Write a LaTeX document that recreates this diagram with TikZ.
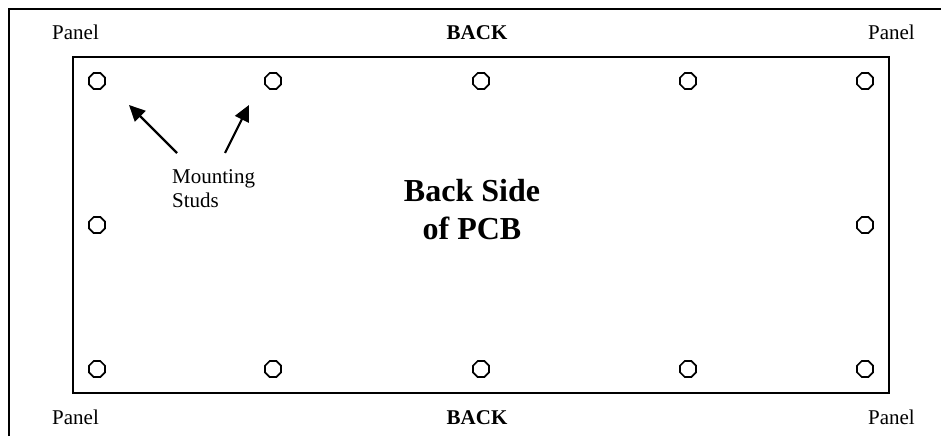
\documentclass[tikz,border=0pt]{standalone}
\usepackage{fontspec}
\setmainfont{Liberation Serif}
\usetikzlibrary{arrows.meta,shapes.geometric}
\tikzset{
  x=1pt,y=-1pt,
  frame/.style={draw=black,line width=1.7pt},
  board/.style={draw=black,line width=1.6pt},
  stud/.style={draw=black,line width=1.7pt,regular polygon,regular polygon sides=8,minimum size=17.3pt,inner sep=0pt},
  lbl/.style={inner sep=0pt,font=\fontsize{21}{21}\selectfont},
  backlbl/.style={inner sep=0pt,font=\fontsize{21}{21}\selectfont\bfseries},
  big/.style={inner sep=0pt,align=center,font=\fontsize{32}{38}\selectfont\bfseries},
  note/.style={inner sep=0pt,align=left,font=\fontsize{21}{23.5}\selectfont},
  pointer/.style={draw=black,line width=2.2pt,-{Triangle[length=16pt,width=15pt]}}
}
\begin{document}
\begin{tikzpicture}
\useasboundingbox (0,0) rectangle (941,436);
\coordinate (fb) at (9,436);
\coordinate (ft) at (9,9);
\coordinate (fr) at (941,9);
\draw[frame] (fb) -- (ft) -- (fr);
\node[board,minimum width=816pt,minimum height=336pt,inner sep=0pt,outer sep=0pt,anchor=north west] (pcb) at (73,57) {};
\foreach \n/\x/\y in {a/97/81,b/273/81,c/481/81,d/688/81,e/865/81,f/97/225,g/865/225,h/97/369,i/273/369,j/481/369,k/688/369,l/865/369}
  \node[stud] (s\n) at (\x,\y) {};
\node[lbl,anchor=base west] (p1) at (52,40) {Panel};
\node[lbl,anchor=base east] (p2) at (915,40) {Panel};
\node[lbl,anchor=base west] (p3) at (52,424) {Panel};
\node[lbl,anchor=base east] (p4) at (915,424) {Panel};
\node[backlbl,anchor=base] (b1) at (477,40) {BACK};
\node[backlbl,anchor=base] (b2) at (477,424) {BACK};
\node[big,anchor=base] (title) at (472,239) {Back Side\\of PCB};
\node[note,anchor=base west] (note) at (172,207) {Mounting\\Studs};
\coordinate (t1) at (177,153);
\coordinate (h1) at (129,105);
\coordinate (t2) at (225,153);
\coordinate (h2) at (249,105);
\draw[pointer] (t1) -- (h1);
\draw[pointer] (t2) -- (h2);
\end{tikzpicture}
\end{document}
